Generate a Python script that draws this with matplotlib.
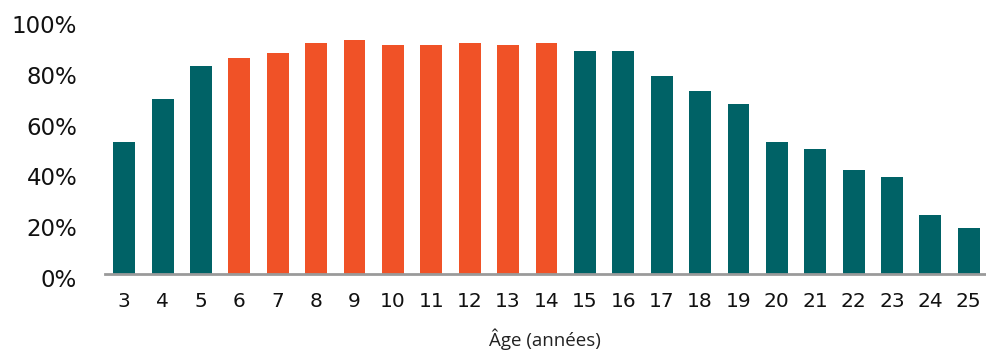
import matplotlib
matplotlib.use("Agg")
import matplotlib.pyplot as plt
import matplotlib.transforms as mtransforms
from matplotlib.ticker import FuncFormatter

# Share of each age group (%)
ages = list(range(3, 26))
values = [52, 69, 82, 85, 87, 91, 92, 90, 90, 91, 90, 91, 88, 88, 78, 72, 67, 52, 49, 41, 38, 23, 18]
highlight_ages = list(range(6, 15))

teal = "#006266"
orange = "#F05227"
colors = [orange if a in highlight_ages else teal for a in ages]

fig = plt.figure(figsize=(9.87, 3.52), dpi=100)
ax = fig.add_axes([0.1064, 0.222, 0.8915, 0.721])

ax.bar(ages, values, width=0.57, color=colors, zorder=2)

ax.set_xlim(2.5, 25.42)
ax.set_ylim(0, 100)
ax.set_yticks([0, 20, 40, 60, 80, 100])
ax.yaxis.set_major_formatter(FuncFormatter(lambda v, p: f"{int(v)}%"))
ax.set_xticks(ages)
ax.set_xticklabels([str(a) for a in ages])

for s in ["top", "right", "left"]:
    ax.spines[s].set_visible(False)
ax.spines["bottom"].set_color("#9a9a9a")
ax.spines["bottom"].set_linewidth(2)
ax.spines["bottom"].set_zorder(3)

ax.tick_params(axis="y", length=0, pad=20, labelsize=16.5, labelcolor="#111111")
ax.tick_params(axis="x", length=0, pad=13, labelsize=14.5, labelcolor="#111111")

# nudge the percentage labels slightly downward
shift = mtransforms.ScaledTranslation(0, -4 / 100, fig.dpi_scale_trans)
for lbl in ax.get_yticklabels():
    lbl.set_transform(lbl.get_transform() + shift)

ax.set_xlabel("Âge (années)", family="Open Sans", fontsize=13.5, color="#222222", labelpad=13)

fig.savefig("out.png", dpi=100)
